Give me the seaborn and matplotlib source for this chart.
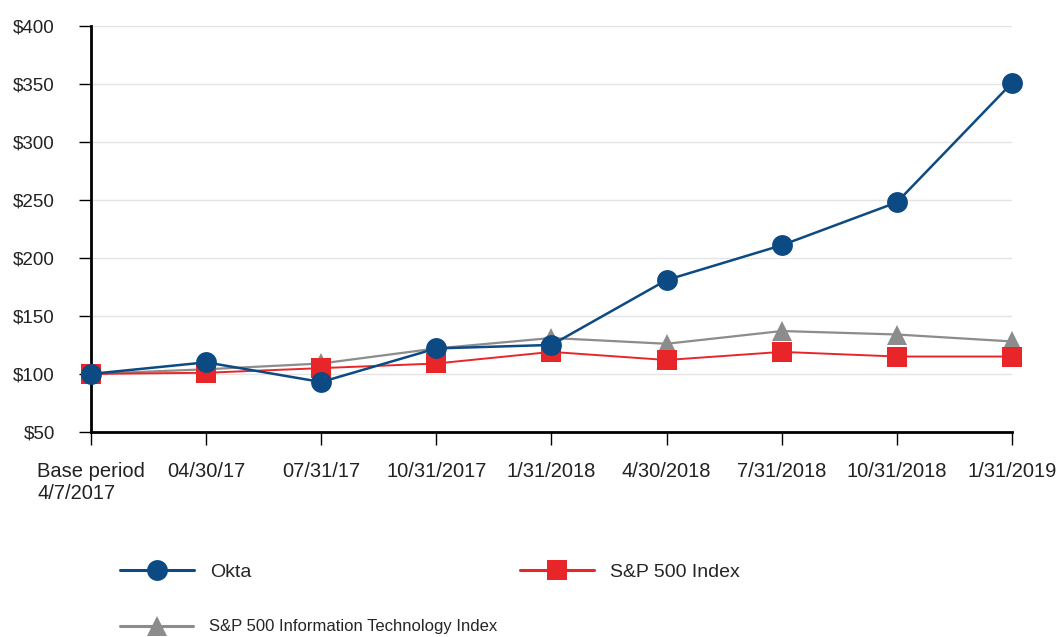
import matplotlib
matplotlib.use("Agg")
import matplotlib.pyplot as plt
from matplotlib.lines import Line2D
import pandas as pd
import seaborn as sns

periods = ["Base period\n4/7/2017", "04/30/17", "07/31/17", "10/31/2017", "1/31/2018",
           "4/30/2018", "7/31/2018", "10/31/2018", "1/31/2019"]
okta = [100, 110, 93, 122, 125, 181, 211, 248, 351]
sp500 = [100, 101, 105, 109, 119, 112, 119, 115, 115]
sp500_it = [100, 104, 109, 122, 131, 126, 137, 134, 128]
y_ticks = [50, 100, 150, 200, 250, 300, 350, 400]

sns.set_style("white")
plt.rcParams['font.family'] = ['Liberation Sans', 'DejaVu Sans']

df = pd.DataFrame({"pos": range(len(periods)), "Okta": okta,
                   "S&P 500 Index": sp500, "S&P 500 Information Technology Index": sp500_it})

fig = plt.figure(figsize=(10.63, 6.37), dpi=100)
ax = fig.add_axes([0.0856, 0.322, 0.8664, 0.637])

blue = "#0b4a82"
red = "#e8262a"
gray = "#8c8c8c"

sns.lineplot(data=df, x="pos", y="S&P 500 Information Technology Index", ax=ax, color=gray,
             marker="^", markersize=14, markeredgewidth=0, linewidth=1.6, zorder=3, clip_on=False)
sns.lineplot(data=df, x="pos", y="S&P 500 Index", ax=ax, color=red,
             marker="s", markersize=14.5, markeredgewidth=0, linewidth=1.4, zorder=4, clip_on=False)
sns.lineplot(data=df, x="pos", y="Okta", ax=ax, color=blue,
             marker="o", markersize=15, markeredgewidth=0, linewidth=1.8, zorder=5, clip_on=False)

ax.set_xlim(0, len(periods) - 1)
ax.set_ylim(50, 400)
ax.set_yticks(y_ticks)
ax.set_yticklabels(["$%d" % v for v in y_ticks])
ax.set_xticks(range(len(periods)))
ax.set_xticklabels(periods, multialignment="left")
ax.set_xlabel("")
ax.set_ylabel("")
ax.yaxis.grid(True, color="#e4e4e4", linewidth=1)
ax.set_axisbelow(True)

for side in ["top", "right"]:
    ax.spines[side].set_visible(False)
for side in ["left", "bottom"]:
    ax.spines[side].set_color("black")
    ax.spines[side].set_linewidth(2)
ax.tick_params(axis="y", direction="out", length=9, width=1, color="black", labelsize=13.5,
               pad=17, left=True, labelcolor="#222222")
ax.tick_params(axis="x", direction="out", length=9, width=1, color="black", labelsize=14.5,
               pad=13, bottom=True, labelcolor="#222222")

h1 = Line2D([], [], color=blue, marker="o", markersize=15, markeredgewidth=0, linewidth=2.2)
h2 = Line2D([], [], color=red, marker="s", markersize=15, markeredgewidth=0, linewidth=2.2)
h3 = Line2D([], [], color=gray, marker="^", markersize=15, markeredgewidth=0, linewidth=2.2)

legend_kw = dict(loc="center left", frameon=False, borderpad=0, borderaxespad=0)
leg1 = fig.legend([h1], ["Okta"], bbox_to_anchor=(120 / 1063, 1 - 572 / 637), fontsize=14,
                  handlelength=3.8, handletextpad=0.82, **legend_kw)
leg2 = fig.legend([h2], ["S&P 500 Index"], bbox_to_anchor=(520 / 1063, 1 - 572 / 637), fontsize=14,
                  handlelength=3.8, handletextpad=0.82, **legend_kw)
leg3 = fig.legend([h3], ["S&P 500 Information Technology Index"],
                  bbox_to_anchor=(120 / 1063, 1 - 627 / 637), fontsize=12,
                  handlelength=4.4, handletextpad=0.96, **legend_kw)

fig.savefig("out.png", dpi=100)
